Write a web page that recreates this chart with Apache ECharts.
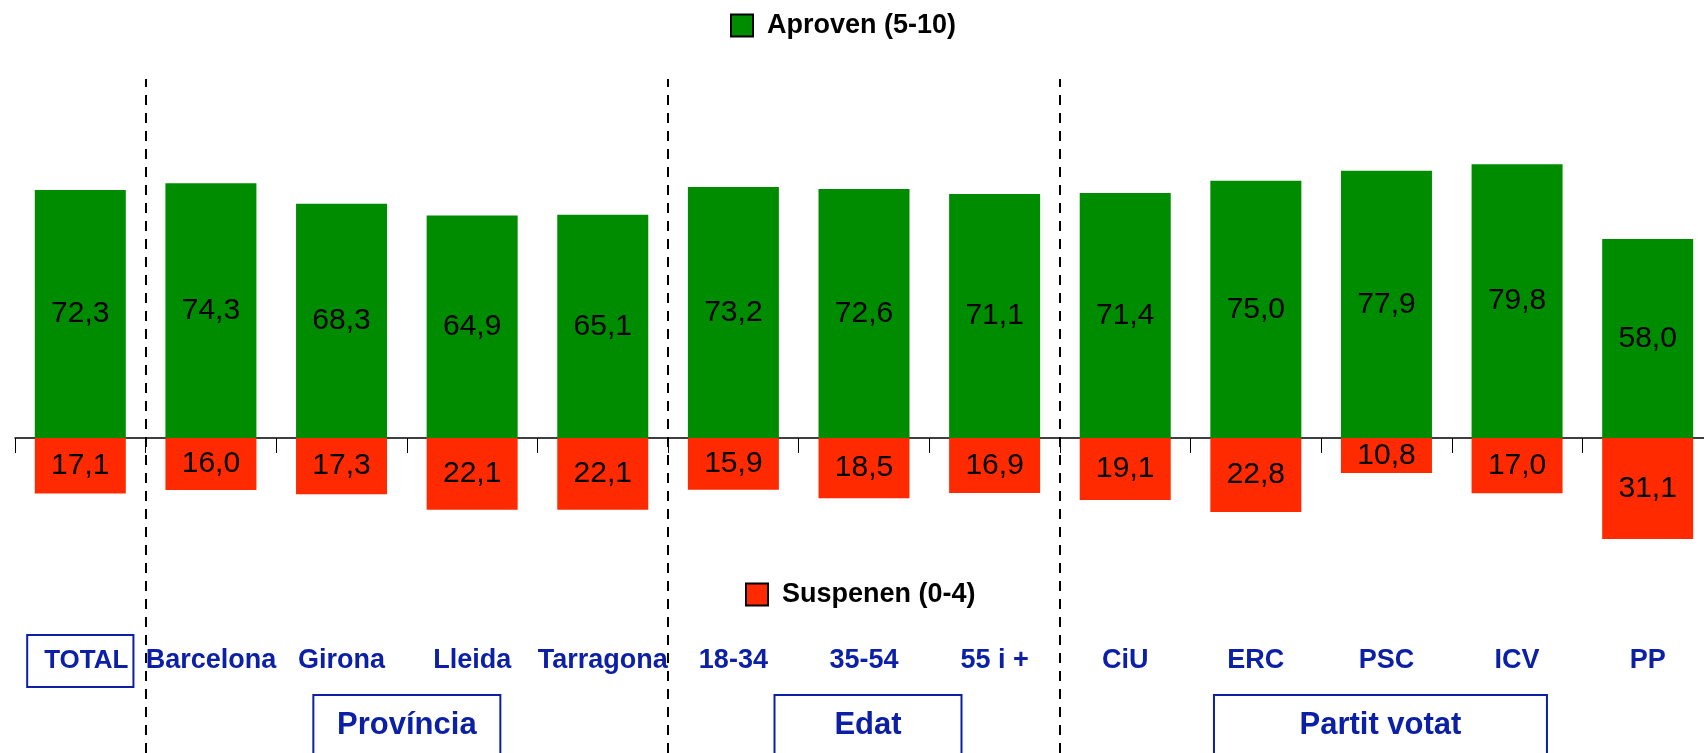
<!DOCTYPE html>
<html><head><meta charset="utf-8">
<script src="https://cdn.jsdelivr.net/npm/echarts@6/dist/echarts.min.js"></script>
<style>html,body{margin:0;padding:0;background:#fff}#c{width:1704px;height:753px}</style>
</head><body><div id="c"></div>
<script>
// ---- data ----
const categories = ['TOTAL','Barcelona','Girona','Lleida','Tarragona','18-34','35-54','55 i +','CiU','ERC','PSC','ICV','PP'];
const aproven = [72.3,74.3,68.3,64.9,65.1,73.2,72.6,71.1,71.4,75.0,77.9,79.8,58.0];
const suspenen = [17.1,16.0,17.3,22.1,22.1,15.9,18.5,16.9,19.1,22.8,10.8,17.0,31.1];
const seriesNames = ['Aproven (5-10)','Suspenen (0-4)'];
const groupNames = ['Província','Edat','Partit votat'];
const groupStart = [1,5,8];
const groupEnd = [5,8,13];

// ---- style ----
const FONT = "'Liberation Sans', Arial, sans-serif";
const BLUE = '#0b20a6';
const GREEN = '#008c00';
const RED = '#ff2a00';
const groupBoxWidths = [187,187,333];
const groupBoxShift = [0,4,-6];
const fmt = v => Math.abs(v).toFixed(1).replace('.', ',');

const chart = echarts.init(document.getElementById('c'), null, {renderer:'canvas'});
chart.setOption({
  animation:false,
  backgroundColor:'#fff',
  textStyle:{fontFamily:FONT},
  grid:{left:15, top:79, width:1698, bottom:0, containLabel:false, outerBoundsMode:'none'},
  legend:[
    {data:[seriesNames[0]], left:725, top:7, icon:'rect', itemWidth:22, itemHeight:22,
     itemStyle:{borderColor:'#000', borderWidth:2},
     textStyle:{fontSize:27, fontWeight:'bold', color:'#000', fontFamily:FONT, padding:[0,0,0,9]}},
    {data:[seriesNames[1]], left:740, top:576, icon:'rect', itemWidth:22, itemHeight:22,
     itemStyle:{borderColor:'#000', borderWidth:2},
     textStyle:{fontSize:27, fontWeight:'bold', color:'#000', fontFamily:FONT, padding:[0,0,0,9]}}
  ],
  xAxis:[
    {type:'category', data:categories, position:'bottom',
     axisLine:{onZero:true, lineStyle:{color:'#000', width:1.5}},
     axisTick:{show:true, length:15, lineStyle:{color:'#000', width:1}},
     axisLabel:{show:false},
     splitLine:{show:false}},
    {type:'value', min:0, max:13, show:false},
    {type:'category', data:categories, position:'bottom', offset:-92,
     axisLine:{show:false, onZero:false}, axisTick:{show:false}, splitLine:{show:false},
     axisLabel:{interval:0, margin:0, verticalAlign:'middle', color:BLUE, fontSize:27, fontWeight:'bold', fontFamily:FONT,
       hideOverlap:false,
       formatter: v => v === 'TOTAL' ? '{box|' + v + '}' : v,
       rich:{box:{fontSize:26, fontWeight:'bold', color:BLUE, fontFamily:FONT, borderColor:BLUE, borderWidth:2,
                  padding:[13,5,13,17], lineHeight:26}}}}
  ],
  yAxis:[
    {type:'value', min:-91.84, max:104.66, show:false},
    {type:'value', min:-96.92, max:110.46, show:false}
  ],
  series:[
    {name:seriesNames[0], type:'bar', xAxisIndex:0, yAxisIndex:0, data:aproven, barWidth:91, barGap:'-100%',
     itemStyle:{color:GREEN},
     label:{show:true, position:'inside', color:'#000', fontSize:30, fontFamily:FONT, formatter:p=>fmt(p.value)}},
    {name:seriesNames[1], type:'bar', xAxisIndex:0, yAxisIndex:1, data:suspenen.map(v=>-v), barWidth:91, barGap:'-100%',
     itemStyle:{color:RED},
     label:{show:true, position:'inside', color:'#000', fontSize:30, fontFamily:FONT, formatter:p=>fmt(p.value)}},
    {name:'sep', type:'line', xAxisIndex:1, yAxisIndex:0, data:[], silent:true,
     markLine:{silent:true, symbol:['none','none'], label:{show:false},
       lineStyle:{color:'#000', width:2, type:[10,8]},
       data:groupStart.map(s=>({xAxis:s}))},
     markArea:{silent:true, itemStyle:{color:'rgba(0,0,0,0)'},
       label:{show:true, position:'insideBottom', distance:0, color:BLUE, fontSize:31, fontWeight:'bold',
              fontFamily:FONT, borderColor:BLUE, borderWidth:2, height:60, lineHeight:60, align:'center', padding:0},
       data:groupNames.map((n,i)=>[{name:n, xAxis:groupStart[i],
              label:{width:groupBoxWidths[i], offset:[groupBoxShift[i],2]}}, {xAxis:groupEnd[i]}])}}
  ]
});
</script></body></html>
